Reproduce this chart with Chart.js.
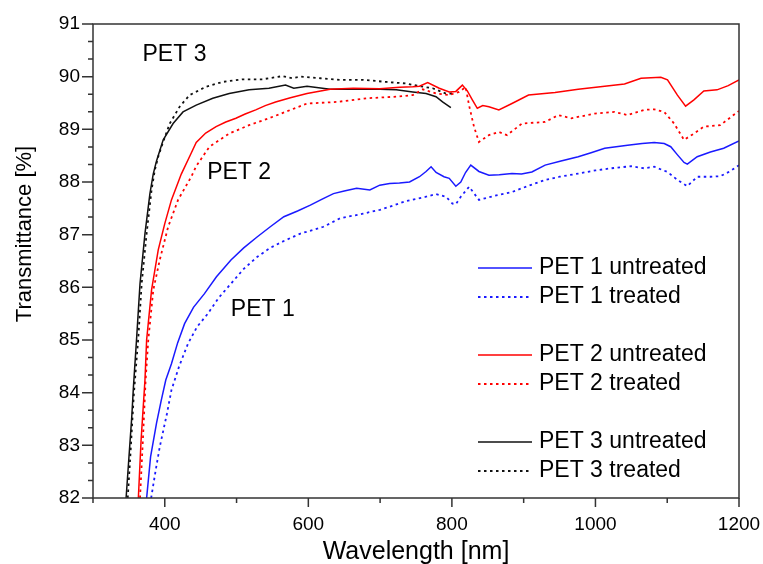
<!DOCTYPE html>
<html lang="en">
<head>
  <meta charset="UTF-8" />
  <title>PET transmittance</title>
  <script src="https://cdn.jsdelivr.net/npm/chart.js"></script>
  <style>
    body { margin: 0; background: #fff; }
    canvas { display: block; }
  </style>
</head>
<body>
  <canvas id="chart" width="763" height="564"></canvas>

  <script>
    // wavelength [nm] / transmittance [%]
    const pet1UntreatedNm = [374.7, 380.2, 388.5, 395, 401.4, 409.3, 418, 427.6, 440, 455.3, 472, 492.2, 510, 529, 547, 565.9, 585, 602.8, 620, 635, 650, 667.3, 685.7, 699.5, 713.3, 727, 741, 754.8, 764, 771, 778, 789, 796.3, 805.5, 812.4, 819, 826.3, 837.7, 851.6, 866, 883.7, 897, 911.4, 929.9, 952, 976, 995, 1012.9, 1044.8, 1065, 1081.9, 1095.8, 1104.9, 1114, 1123.4, 1128, 1141.8, 1160.2, 1178.7, 1200];
    const pet1UntreatedT = [82.0, 82.78, 83.42, 83.85, 84.24, 84.55, 84.95, 85.31, 85.62, 85.88, 86.2, 86.52, 86.75, 86.96, 87.15, 87.34, 87.45, 87.56, 87.68, 87.78, 87.83, 87.88, 87.85, 87.94, 87.97, 87.98, 88.0, 88.1, 88.2, 88.29, 88.18, 88.1, 88.07, 87.92, 88.0, 88.18, 88.32, 88.2, 88.13, 88.14, 88.16, 88.15, 88.19, 88.32, 88.4, 88.48, 88.56, 88.64, 88.7, 88.73, 88.75, 88.73, 88.67, 88.52, 88.37, 88.34, 88.48, 88.57, 88.64, 88.78];

    const pet1TreatedNm = [381, 387, 393, 403, 409.3, 420, 432.3, 445, 460, 475, 492.2, 510, 529, 547, 565.9, 589, 621, 644.2, 676.4, 699.5, 713.3, 736.4, 764, 777.9, 791.7, 800.8, 805.5, 812.4, 824, 830, 837.7, 860, 883.7, 905, 929.9, 950, 976, 1000, 1022, 1049.6, 1068, 1081.9, 1100.4, 1114.2, 1128, 1141.8, 1160.2, 1174, 1187, 1200];
    const pet1TreatedT = [82.0, 82.5, 82.97, 83.6, 84.05, 84.5, 84.93, 85.25, 85.5, 85.8, 86.07, 86.35, 86.58, 86.75, 86.88, 87.02, 87.15, 87.31, 87.4, 87.47, 87.53, 87.64, 87.72, 87.77, 87.72, 87.59, 87.58, 87.72, 87.91, 87.8, 87.66, 87.74, 87.81, 87.92, 88.04, 88.1, 88.16, 88.22, 88.26, 88.3, 88.26, 88.29, 88.19, 88.04, 87.92, 88.1, 88.1, 88.11, 88.2, 88.32];

    const pet2UntreatedNm = [363.2, 367, 372.4, 374.7, 381.6, 390.9, 400, 409.3, 423, 436.9, 443.8, 457, 471.5, 485, 499.1, 512, 526.7, 540, 554.4, 575, 598.2, 630.4, 662.6, 699.5, 727.1, 745.5, 754.8, 766.3, 782.4, 796.3, 805.5, 814.6, 821.5, 828.5, 835.4, 843, 851.6, 865.4, 883.7, 906.8, 943.7, 976, 1012.9, 1040.5, 1063.5, 1091.1, 1100.4, 1114.2, 1125.6, 1137.2, 1151, 1169.4, 1185, 1200];
    const pet2UntreatedT = [82.0, 83.1, 84.24, 85.0, 85.95, 86.71, 87.21, 87.66, 88.15, 88.55, 88.75, 88.93, 89.05, 89.14, 89.21, 89.29, 89.37, 89.45, 89.52, 89.6, 89.68, 89.76, 89.78, 89.77, 89.8, 89.81, 89.82, 89.89, 89.78, 89.71, 89.72, 89.84, 89.73, 89.56, 89.4, 89.45, 89.43, 89.37, 89.49, 89.65, 89.7, 89.76, 89.82, 89.86, 89.97, 89.99, 89.94, 89.65, 89.44, 89.56, 89.73, 89.75, 89.83, 89.94];

    const pet2TreatedNm = [365.5, 369.5, 373.3, 377, 384, 393, 404.7, 418.5, 436.9, 443.8, 462.2, 489.8, 517.5, 545.1, 577.5, 598.2, 639.7, 681.2, 722.6, 745.5, 759.4, 777.9, 796.3, 810, 819.2, 824, 830.8, 837.7, 851.6, 865.4, 876.9, 897.6, 929.9, 948.3, 966.7, 999, 1026.7, 1044.8, 1068, 1081.9, 1095.8, 1109.6, 1123.4, 1137.2, 1151, 1174, 1200];
    const pet2TreatedT = [82.0, 83.1, 84.24, 85.0, 85.95, 86.52, 87.15, 87.66, 88.1, 88.3, 88.67, 88.92, 89.08, 89.21, 89.38, 89.49, 89.52, 89.59, 89.62, 89.65, 89.76, 89.68, 89.65, 89.71, 89.8, 89.45, 89.05, 88.76, 88.89, 88.95, 88.89, 89.11, 89.14, 89.27, 89.21, 89.3, 89.33, 89.27, 89.37, 89.38, 89.33, 89.11, 88.8, 88.92, 89.05, 89.08, 89.35];

    const pet3UntreatedNm = [346.1, 354, 356.3, 360.9, 365.5, 372.4, 379.3, 383.9, 388.5, 397.8, 411.6, 425.4, 443.8, 466.9, 489.8, 517.5, 545.1, 568.2, 579.7, 598.2, 630.4, 662.6, 699.5, 722.6, 745.5, 764, 777.9, 787, 798.6];
    const pet3UntreatedT = [82.0, 83.54, 84.1, 85.06, 86.07, 87.02, 87.78, 88.15, 88.4, 88.8, 89.11, 89.33, 89.46, 89.59, 89.68, 89.75, 89.78, 89.84, 89.78, 89.82, 89.76, 89.76, 89.76, 89.75, 89.71, 89.68, 89.62, 89.52, 89.41];

    const pet3TreatedNm = [348.4, 352, 356.8, 363.2, 367.8, 374.7, 381.6, 386.2, 390.9, 395.4, 406.9, 420.7, 434.5, 457.6, 480.7, 508.4, 536, 563.7, 577.5, 589, 616.6, 644.2, 676.4, 708.7, 736.4, 754.8, 773.2, 791.7, 800.8];
    const pet3TreatedT = [82.0, 82.8, 83.95, 85.06, 86.07, 87.02, 87.85, 88.23, 88.48, 88.67, 89.11, 89.43, 89.65, 89.81, 89.9, 89.95, 89.95, 90.01, 89.97, 90.0, 89.97, 89.94, 89.94, 89.9, 89.87, 89.82, 89.78, 89.68, 89.68];

    const xTicks = [400, 600, 800, 1000, 1200];
    const yTicks = [82, 83, 84, 85, 86, 87, 88, 89, 90, 91];

    // sample labels placed inside the plot: [text, nm, %]
    const sampleLabels = [['PET 3', 369, 90.41], ['PET 2', 459, 88.17], ['PET 1', 492, 85.57]];

    const FONT = "'Liberation Sans', Arial, sans-serif";
    const dotted = [2.5, 3.5];

    function pts(xs, ys) {
      return xs.map((v, i) => ({ x: v, y: ys[i] }));
    }

    function series(label, xs, ys, color, dash) {
      return {
        label: label,
        data: pts(xs, ys),
        borderColor: color,
        borderWidth: dash ? 1.8 : 1.5,
        borderDash: dash || [],
        pointRadius: 0,
        tension: 0,
        fill: false
      };
    }

    // frame, tick marks, y title, legend and sample labels
    const extras = {
      id: 'extras',
      afterDraw(chart) {
        const ctx = chart.ctx;
        const a = chart.chartArea;
        const x = chart.scales.x, y = chart.scales.y;
        ctx.save();
        ctx.strokeStyle = '#333';
        ctx.lineWidth = 1.5;
        ctx.strokeRect(a.left, a.top, a.right - a.left, a.bottom - a.top);

        ctx.beginPath();
        for (let v = 300; v <= 1200; v += 100) {
          const px = x.getPixelForValue(v);
          const len = xTicks.includes(v) ? 9 : 5;
          ctx.moveTo(px, a.bottom);
          ctx.lineTo(px, a.bottom + len);
        }
        for (let i = 0; i <= 27; i++) {
          const py = y.getPixelForValue(82 + i / 3);
          const len = i % 3 === 0 ? 11 : 5;
          ctx.moveTo(a.left, py);
          ctx.lineTo(a.left - len, py);
        }
        ctx.stroke();

        ctx.fillStyle = '#000';
        ctx.textBaseline = 'middle';

        // y axis title (sits above the plot centre in the original)
        ctx.save();
        ctx.translate(25, 234);
        ctx.rotate(-Math.PI / 2);
        ctx.textAlign = 'center';
        ctx.font = '22px ' + FONT;
        ctx.fillText('Transmittance [%]', 0, 0);
        ctx.restore();

        // legend
        ctx.font = '23px ' + FONT;
        ctx.textAlign = 'left';
        chart.data.datasets.forEach((ds, i) => {
          const ry = 268 + i * 29 + Math.floor(i / 2) * 29;
          ctx.beginPath();
          ctx.strokeStyle = ds.borderColor;
          ctx.lineWidth = ds.borderWidth;
          ctx.setLineDash(ds.borderDash);
          ctx.moveTo(478, ry);
          ctx.lineTo(532, ry);
          ctx.stroke();
          ctx.setLineDash([]);
          ctx.fillText(ds.label, 539, ry);
        });

        sampleLabels.forEach(([t, nm, v]) => {
          ctx.fillText(t, x.getPixelForValue(nm), y.getPixelForValue(v));
        });
        ctx.restore();
      }
    };

    new Chart(document.getElementById('chart'), {
      type: 'line',
      data: {
        datasets: [
          series('PET 1 untreated', pet1UntreatedNm, pet1UntreatedT, '#1a1aff'),
          series('PET 1 treated', pet1TreatedNm, pet1TreatedT, '#1a1aff', dotted),
          series('PET 2 untreated', pet2UntreatedNm, pet2UntreatedT, '#ff0000'),
          series('PET 2 treated', pet2TreatedNm, pet2TreatedT, '#ff0000', dotted),
          series('PET 3 untreated', pet3UntreatedNm, pet3UntreatedT, '#111111'),
          series('PET 3 treated', pet3TreatedNm, pet3TreatedT, '#111111', dotted)
        ]
      },
      options: {
        responsive: false,
        animation: false,
        devicePixelRatio: 1,
        layout: { padding: { top: 24, right: 24, left: 0, bottom: 0 } },
        plugins: {
          legend: { display: false },
          tooltip: { enabled: false }
        },
        scales: {
          x: {
            type: 'linear',
            min: 300,
            max: 1200,
            afterBuildTicks: s => { s.ticks = xTicks.map(v => ({ value: v })); },
            afterFit: s => { s.height = 66; s.paddingLeft = 0; s.paddingRight = 0; },
            grid: { display: false, drawTicks: true, tickLength: 9 },
            border: { display: false },
            ticks: {
              font: { family: FONT, size: 19 },
              color: '#000',
              padding: 6,
              maxRotation: 0,
              callback: v => String(v)
            },
            title: {
              display: true,
              text: 'Wavelength [nm]',
              font: { family: FONT, size: 25, lineHeight: 1 },
              color: '#000',
              padding: { top: 0, bottom: -1 }
            }
          },
          y: {
            type: 'linear',
            min: 82,
            max: 91,
            afterBuildTicks: s => { s.ticks = yTicks.map(v => ({ value: v })); },
            afterFit: s => { s.width = 93; s.paddingTop = 0; s.paddingBottom = 0; },
            grid: { display: false, drawTicks: true, tickLength: 11 },
            border: { display: false },
            ticks: {
              font: { family: FONT, size: 19 },
              color: '#000',
              padding: 2,
              callback: v => String(v)
            },
            title: { display: false }
          }
        }
      },
      plugins: [extras]
    });
  </script>
</body>
</html>
